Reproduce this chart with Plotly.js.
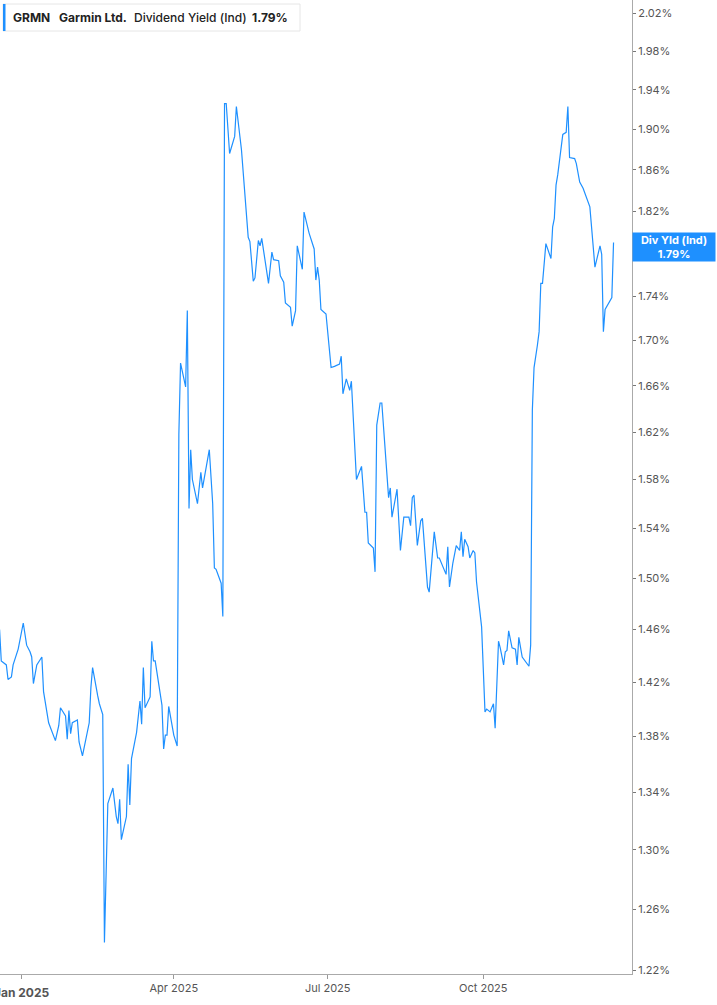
<!DOCTYPE html>
<html>
<head>
<meta charset="utf-8">
<script src="https://cdn.plot.ly/plotly-3.0.1.min.js"></script>
<style>
  html, body { margin: 0; padding: 0; background: #fff; }
  #grafik { width: 717px; height: 1005px; }
</style>
</head>
<body>
<div id="grafik"></div>
<script>
// GRMN dividend yield (indicated)
const dates = [
  '2024-12-19','2024-12-20','2024-12-23','2024-12-24','2024-12-26','2024-12-27','2024-12-30',
  '2025-01-02','2025-01-04','2025-01-06','2025-01-07','2025-01-08','2025-01-10','2025-01-13',
  '2025-01-14','2025-01-17','2025-01-21','2025-01-23','2025-01-24','2025-01-27','2025-01-28',
  '2025-01-29','2025-01-30','2025-01-31','2025-02-03','2025-02-04','2025-02-06','2025-02-08',
  '2025-02-10','2025-02-11','2025-02-12','2025-02-15','2025-02-16','2025-02-18','2025-02-19',
  '2025-02-21','2025-02-24','2025-02-26','2025-02-27','2025-02-28','2025-03-01','2025-03-04',
  '2025-03-05','2025-03-06','2025-03-07','2025-03-10','2025-03-12','2025-03-13','2025-03-14',
  '2025-03-15','2025-03-18','2025-03-19','2025-03-20','2025-03-21','2025-03-25','2025-03-26',
  '2025-03-27','2025-03-28','2025-03-29','2025-04-01','2025-04-03','2025-04-04','2025-04-05',
  '2025-04-08','2025-04-09','2025-04-10','2025-04-11','2025-04-12','2025-04-15','2025-04-17',
  '2025-04-18','2025-04-22','2025-04-24','2025-04-25','2025-04-26','2025-04-29','2025-04-30',
  '2025-05-01','2025-05-02','2025-05-04','2025-05-07','2025-05-08','2025-05-11','2025-05-15',
  '2025-05-16','2025-05-18','2025-05-19','2025-05-21','2025-05-22','2025-05-23','2025-05-27',
  '2025-05-29','2025-05-30','2025-06-02','2025-06-03','2025-06-05','2025-06-06','2025-06-09',
  '2025-06-10','2025-06-12','2025-06-13','2025-06-16','2025-06-17','2025-06-20','2025-06-23',
  '2025-06-24','2025-06-25','2025-06-26','2025-06-27','2025-06-30','2025-07-03','2025-07-05',
  '2025-07-08','2025-07-09','2025-07-10','2025-07-12','2025-07-14','2025-07-15','2025-07-18',
  '2025-07-21','2025-07-23','2025-07-24','2025-07-25','2025-07-28','2025-07-29','2025-07-30',
  '2025-08-01','2025-08-02','2025-08-04','2025-08-06','2025-08-07','2025-08-08','2025-08-11',
  '2025-08-13','2025-08-15','2025-08-18','2025-08-19','2025-08-20','2025-08-21','2025-08-23',
  '2025-08-25','2025-08-26','2025-08-29','2025-08-30','2025-09-02','2025-09-04','2025-09-05',
  '2025-09-09','2025-09-10','2025-09-11','2025-09-13','2025-09-15','2025-09-17','2025-09-18',
  '2025-09-19','2025-09-20','2025-09-22','2025-09-23','2025-09-25','2025-09-26','2025-09-27',
  '2025-09-30','2025-10-02','2025-10-03','2025-10-05','2025-10-07','2025-10-08','2025-10-10',
  '2025-10-11','2025-10-13','2025-10-14','2025-10-15','2025-10-16','2025-10-18','2025-10-20',
  '2025-10-21','2025-10-22','2025-10-24','2025-10-28','2025-10-29','2025-10-30','2025-10-31',
  '2025-11-02','2025-11-03','2025-11-04','2025-11-05','2025-11-07','2025-11-10','2025-11-11',
  '2025-11-12','2025-11-13','2025-11-14','2025-11-17','2025-11-19','2025-11-20','2025-11-21',
  '2025-11-24','2025-11-25','2025-11-27','2025-11-29','2025-12-03','2025-12-06','2025-12-09',
  '2025-12-10','2025-12-11','2025-12-12','2025-12-16','2025-12-17'
];

const divYield = [
  1.460,1.436,1.433,1.422,1.424,1.433,1.445,
  1.465,1.448,1.443,1.439,1.419,1.433,1.439,
  1.413,1.390,1.377,1.388,1.401,1.395,1.378,
  1.399,1.382,1.390,1.392,1.376,1.366,1.379,
  1.390,1.416,1.431,1.410,1.404,1.396,1.238,
  1.332,1.343,1.323,1.318,1.335,1.307,1.323,
  1.360,1.331,1.364,1.383,1.406,1.389,1.431,
  1.401,1.409,1.451,1.436,1.436,1.403,1.371,
  1.381,1.381,1.402,1.381,1.373,1.618,1.680,
  1.659,1.727,1.556,1.605,1.580,1.560,1.586,
  1.573,1.605,1.560,1.508,1.507,1.496,1.470,
  1.926,1.926,1.876,1.893,1.923,1.880,1.795,
  1.791,1.754,1.757,1.792,1.787,1.794,1.752,
  1.781,1.774,1.773,1.759,1.753,1.734,1.730,
  1.713,1.727,1.787,1.765,1.819,1.799,1.784,
  1.755,1.767,1.755,1.728,1.724,1.676,1.677,
  1.679,1.686,1.653,1.666,1.656,1.664,1.580,
  1.591,1.553,1.553,1.528,1.524,1.505,1.626,
  1.645,1.645,1.602,1.565,1.573,1.549,1.572,
  1.522,1.549,1.549,1.542,1.565,1.567,1.526,
  1.546,1.548,1.493,1.489,1.537,1.516,1.516,
  1.503,1.525,1.493,1.512,1.526,1.522,1.537,
  1.517,1.531,1.525,1.516,1.522,1.520,1.497,
  1.462,1.398,1.400,1.398,1.404,1.386,1.451,
  1.446,1.433,1.443,1.444,1.459,1.446,1.445,
  1.433,1.454,1.439,1.432,1.448,1.639,1.676,
  1.696,1.708,1.752,1.752,1.789,1.775,1.805,
  1.813,1.845,1.855,1.895,1.897,1.923,1.872,
  1.871,1.866,1.848,1.842,1.824,1.767,1.787,
  1.779,1.708,1.728,1.739,1.790
];

const xTickDates = ['2025-01-01', '2025-04-01', '2025-07-01', '2025-10-01'];
const xTickLabels = ['', 'Apr 2025', 'Jul 2025', 'Oct 2025'];
// the year label sits half off the left edge, so it is drawn as an annotation
const yearLabel = 'Jan 2025';

const yTickVals = [1.22, 1.26, 1.30, 1.34, 1.38, 1.42, 1.46, 1.50, 1.54, 1.58, 1.62,
                   1.66, 1.70, 1.74, 1.78, 1.82, 1.86, 1.90, 1.94, 1.98, 2.02];
const yTickLabels = yTickVals.map(v => v.toFixed(2) + '%');

const lastValue = divYield[divYield.length - 1];

const blue = '#1e90ff';
const W = 632, H = 974; // plot area in px

// helpers to put things in paper coords from pixel positions
const px = x => x / W;
const py = y => 1 - y / H;

const data = [{
  x: dates,
  y: divYield,
  type: 'scatter',
  mode: 'lines',
  line: { color: blue, width: 1.2 },
  hoverinfo: 'x+y'
}];

const fontFam = 'Inter, "Noto Sans", sans-serif';
const headerFont = { family: fontFam, size: 12, color: '#222' };

const layout = {
  width: 717,
  height: 1005,
  margin: { l: 0, r: 85, t: 0, b: 31 },
  paper_bgcolor: '#fff',
  plot_bgcolor: '#fff',
  showlegend: false,
  font: { family: fontFam, size: 11, color: '#555' },
  xaxis: {
    type: 'date',
    range: ['2024-12-19 06:00', '2025-12-27 22:00'],
    tickvals: xTickDates,
    ticktext: xTickLabels,
    ticks: 'outside',
    ticklen: 4,
    tickcolor: '#999',
    showline: true,
    linecolor: '#aaa',
    linewidth: 1,
    showgrid: false,
    zeroline: false,
    tickfont: { size: 11, color: '#555' }
  },
  yaxis: {
    type: 'log',
    side: 'right',
    range: [Math.log10(1.2177), Math.log10(2.034)],
    tickvals: yTickVals,
    ticktext: yTickLabels,
    ticks: 'outside',
    ticklen: 3,
    tickcolor: '#777',
    showline: true,
    linecolor: '#aaa',
    linewidth: 1,
    showgrid: false,
    zeroline: false,
    tickfont: { size: 11, color: '#555' }
  },
  shapes: [
    { type: 'rect', xref: 'paper', yref: 'paper',
      x0: px(3), x1: px(300), y0: py(31), y1: py(4),
      fillcolor: '#fff', line: { color: '#e6e6e6', width: 1 } },
    { type: 'rect', xref: 'paper', yref: 'paper',
      x0: px(3), x1: px(5.5), y0: py(31), y1: py(4),
      fillcolor: blue, line: { width: 0 } }
  ],
  annotations: [
    { text: 'GRMN', xref: 'paper', yref: 'paper', x: px(11), y: py(17.5),
      xanchor: 'left', yanchor: 'middle', showarrow: false,
      font: Object.assign({}, headerFont, { weight: 700 }) },
    { text: 'Garmin Ltd.', xref: 'paper', yref: 'paper', x: px(57), y: py(17.5),
      xanchor: 'left', yanchor: 'middle', showarrow: false,
      font: Object.assign({}, headerFont, { weight: 700 }) },
    { text: 'Dividend Yield (Ind)', xref: 'paper', yref: 'paper', x: px(132), y: py(17.5),
      xanchor: 'left', yanchor: 'middle', showarrow: false,
      font: Object.assign({}, headerFont, { weight: 500 }) },
    { text: lastValue.toFixed(2) + '%', xref: 'paper', yref: 'paper', x: px(250), y: py(17.5),
      xanchor: 'left', yanchor: 'middle', showarrow: false,
      font: Object.assign({}, headerFont, { weight: 700 }) },
    { text: 'Div Yld (Ind)<br>' + lastValue.toFixed(2) + '%',
      xref: 'paper', yref: 'paper', x: px(632.5), y: py(246.5),
      xanchor: 'left', yanchor: 'middle', showarrow: false,
      width: 80, height: 26, bgcolor: blue, borderpad: 1, align: 'center',
      font: { family: fontFam, size: 11, color: '#fff', weight: 700 } },
    { text: yearLabel, xref: 'x', yref: 'paper', x: xTickDates[0], y: py(992),
      xanchor: 'center', yanchor: 'middle', showarrow: false,
      font: { family: fontFam, size: 12, color: '#555', weight: 700 } }
  ]
};

Plotly.newPlot('grafik', data, layout, { displayModeBar: false, staticPlot: true });
</script>
</body>
</html>
